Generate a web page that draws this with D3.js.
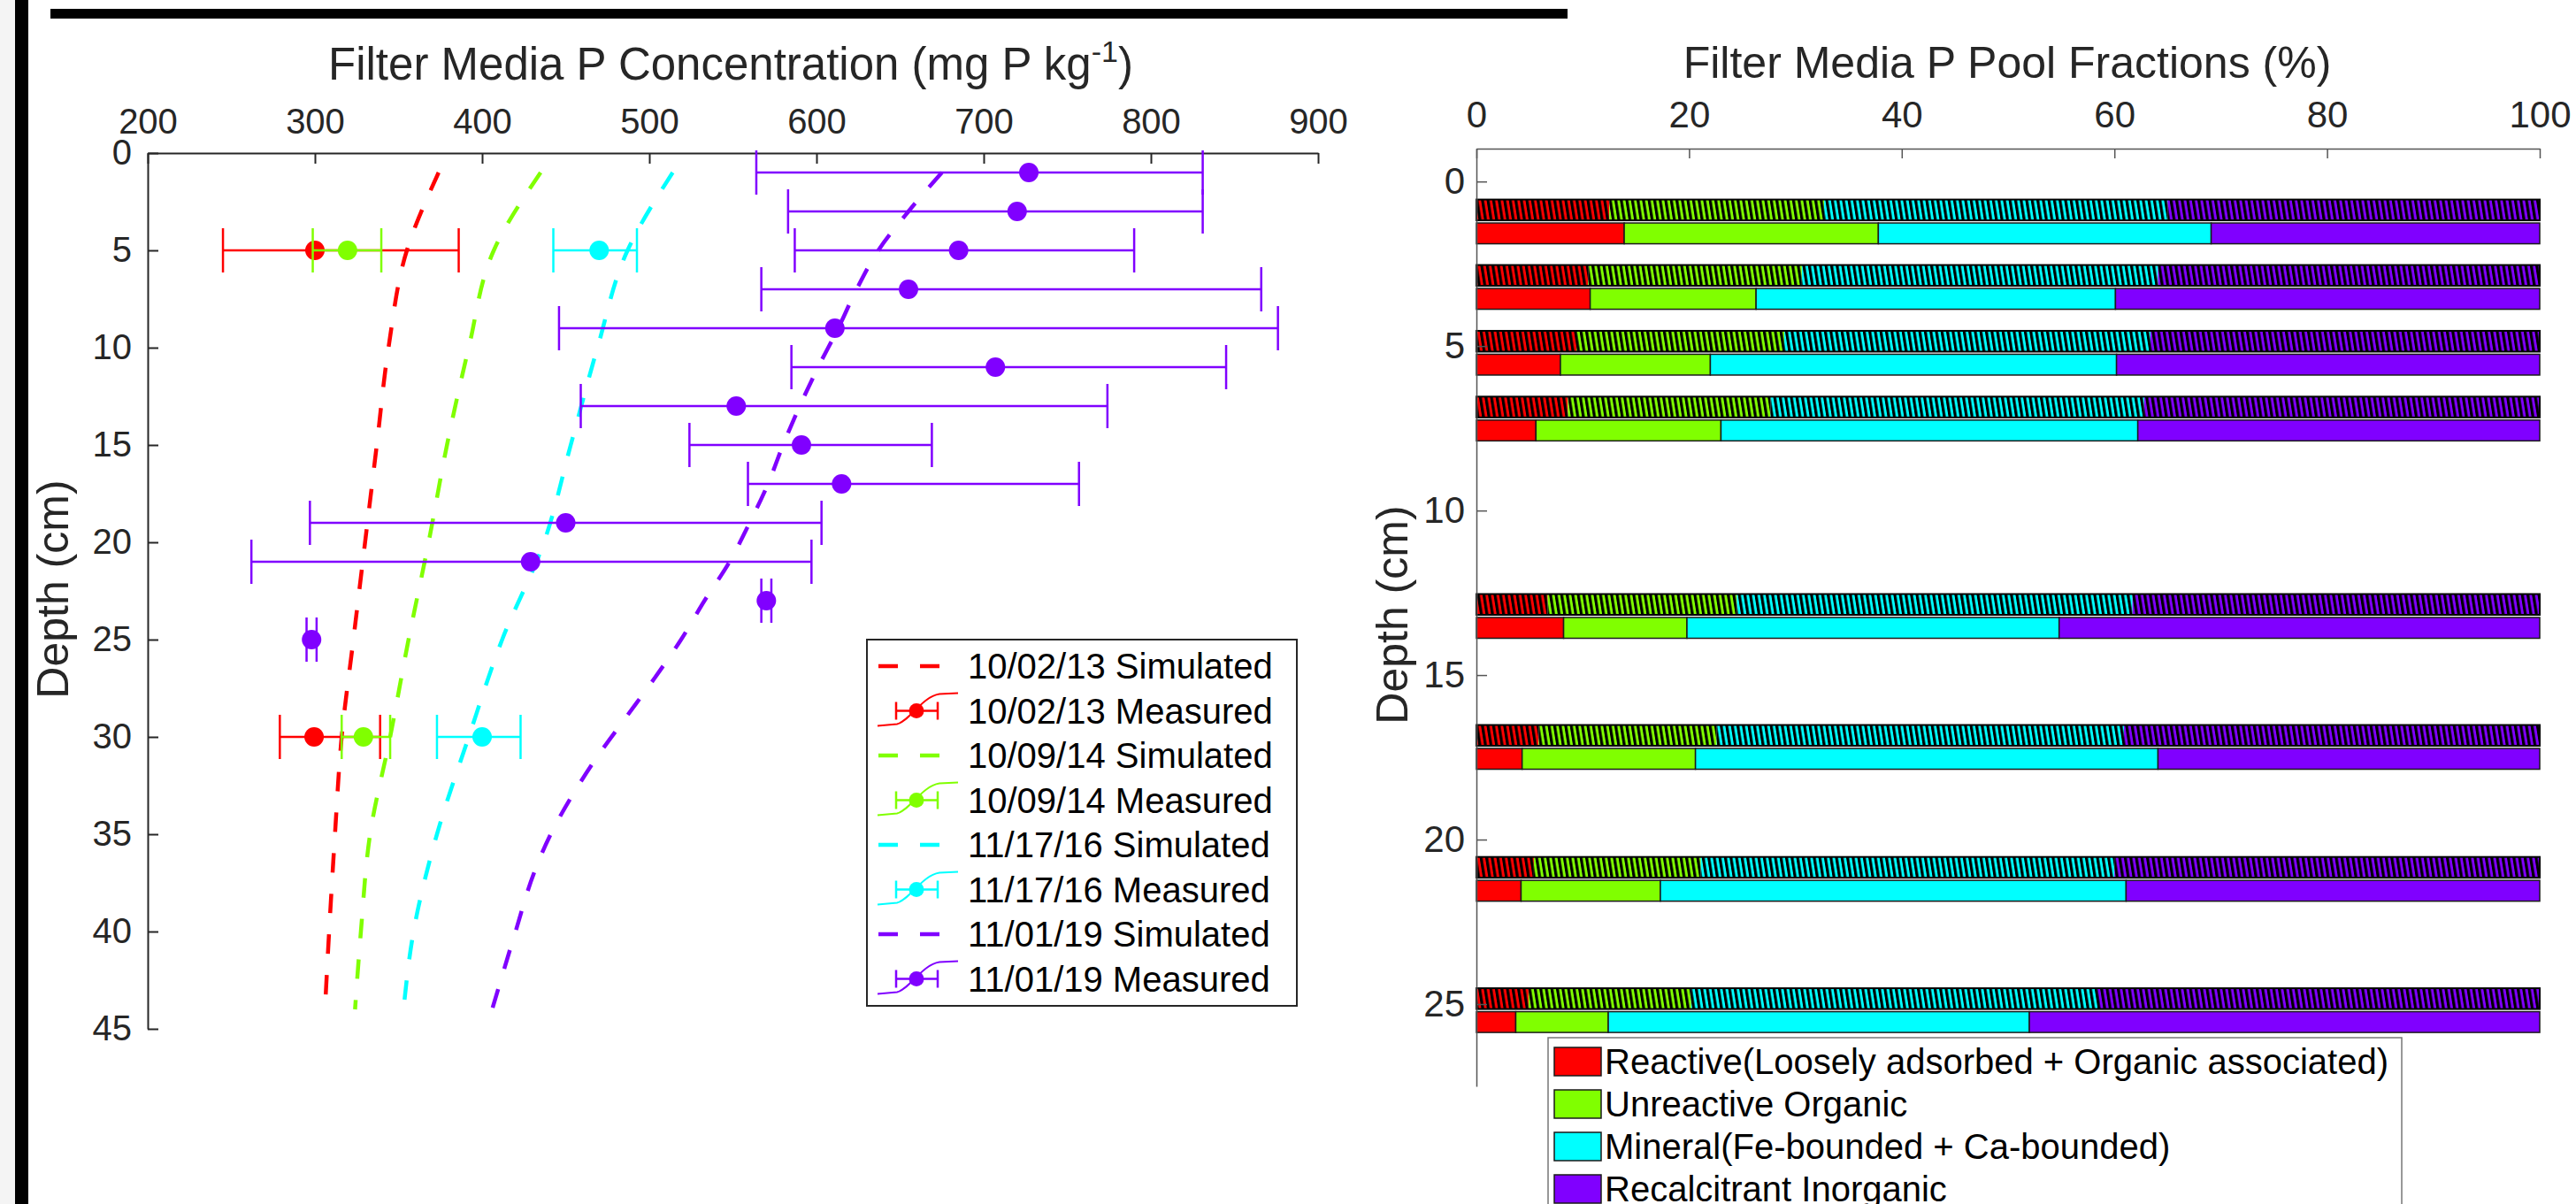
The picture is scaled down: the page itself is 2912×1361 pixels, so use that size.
<!DOCTYPE html>
<html><head><meta charset="utf-8">
<script src="https://cdn.jsdelivr.net/npm/d3@7"></script>
<style>
html,body{margin:0;padding:0;background:#fff;overflow:hidden;}
svg{display:block;font-family:"Liberation Sans",Arial,Helvetica,sans-serif;}
</style></head><body>
<svg id="chart" width="2912" height="1361"></svg>
<script>
// ---------------- DATA: left panel ----------------
const xTicksL = [200,300,400,500,600,700,800,900];
const yTicksL = [0,5,10,15,20,25,30,35,40,45];
const simDepths = [1,5,10,15,20,25,30,35,40,44];
const sim_100213 = [374,355,344,337,330,323,316,312,308.5,306];
const sim_100914 = [435,407,392,379,368,356,345,333,327.5,324];
const sim_111716 = [514,487,469,453,437,412,392,373,359,353];
const simDepths_110119 = [1,3,5,7,9,11,13,15,17,19,21,23,25,27,29,31,33,35,37,40,44];
const sim_110119 = [675,655,637,624,613,601,590,580,571,560,548,533,519,503,486,469,454,441,431,420,406];

const measDepthsEarly = [5,30];
const meas_100213 = [300,299.5];
const low_100213  = [245,279];
const high_100213 = [386,339];
const meas_100914 = [319.5,329];
const low_100914  = [298.7,316];
const high_100914 = [339.7,345];
const meas_111716 = [470,400];
const low_111716  = [442.6,373];
const high_111716 = [492.6,423];

const measDepths_110119 = [1,3,5,7,9,11,13,15,17,19,21,23,25];
const meas_110119 = [727,720,685,655,611,707,552,591,615,450,429,570,298];
const low_110119  = [564,583,587,567,446,585,459,524,559,297,262,567,295];
const high_110119 = [831,831,790,866,876,845,774,669,757,603,597,573,301];

const seriesDates = ["10/02/13","10/09/14","11/17/16","11/01/19"];
const seriesColors = ["#ff0000","#80ff00","#00ffff","#8000ff"];

// ---------------- DATA: right panel ----------------
const xTicksR = [0,20,40,60,80,100];
const yTicksR = [0,5,10,15,20,25];
const pairDepths = [1.22,3.21,5.21,7.21,13.21,17.19,21.2,25.19];
const poolNames = ["Reactive(Loosely adsorbed + Organic associated)","Unreactive Organic","Mineral(Fe-bounded + Ca-bounded)","Recalcitrant Inorganic"];
// hatched bars
const hatchReactive     = [12.5,10.5,9.4,8.6,6.7,5.85,5.4,4.9];
const hatchUnreactive   = [20.2,20.1,19.55,19.05,17.8,16.75,15.7,15.3];
const hatchMineral      = [32.3,33.5,34.45,35.15,37.2,38.3,38.9,38.2];
const hatchRecalcitrant = [35.0,35.9,36.6,37.2,38.3,39.1,40.0,41.6];
// solid bars
const solidReactive     = [13.9,10.7,7.9,5.6,8.2,4.3,4.2,3.7];
const solidUnreactive   = [23.9,15.6,14.1,17.4,11.6,16.3,13.1,8.7];
const solidMineral      = [31.3,33.8,38.2,39.2,35.0,43.5,43.8,39.6];
const solidRecalcitrant = [30.9,39.9,39.8,37.8,45.2,35.9,38.9,48.0];

// ---------------- DRAW ----------------
const svg = d3.select("#chart");
const axisCol = "#262626";

// page frame decorations
svg.append("rect").attr("x",0).attr("y",0).attr("width",17).attr("height",1361).attr("fill","#f4f4f4");
svg.append("rect").attr("x",17).attr("y",0).attr("width",15).attr("height",1361).attr("fill","#000");
svg.append("rect").attr("x",57).attr("y",10).attr("width",1715).attr("height",11).attr("fill","#000");

// ===== LEFT PANEL =====
const xL = d3.scaleLinear().domain([200,900]).range([167,1490]);
const yL = d3.scaleLinear().domain([0,45]).range([173,1163]);

function styleAxis(g, fs){
  g.select(".domain").attr("stroke",axisCol).attr("stroke-width",2);
  g.selectAll(".tick line").attr("stroke",axisCol).attr("stroke-width",2);
  g.selectAll(".tick text").attr("fill",axisCol).style("font-size",fs+"px").style("font-family","'Liberation Sans',Arial,sans-serif");
}

const gxL = svg.append("g").attr("transform",`translate(0,${yL(0)})`)
  .call(d3.axisTop(xL).tickValues(xTicksL).tickSize(-12).tickSizeOuter(0).tickPadding(22));
styleAxis(gxL,40);
const gyL = svg.append("g").attr("transform",`translate(${xL(200)},0)`)
  .call(d3.axisLeft(yL).tickValues(yTicksL).tickSize(-12).tickSizeOuter(0).tickPadding(18));
styleAxis(gyL,40);

// titles
const tL = svg.append("text").attr("x",826).attr("y",90).attr("text-anchor","middle")
  .attr("fill",axisCol).style("font-size","51px");
tL.append("tspan").text("Filter Media P Concentration (mg P kg");
tL.append("tspan").attr("dy",-20).style("font-size","34px").text("-1");
tL.append("tspan").attr("dy",20).text(")");
svg.append("text").attr("transform","translate(77,666) rotate(-90)").attr("text-anchor","middle")
  .attr("fill",axisCol).style("font-size","50px").text("Depth (cm)");

const simSeries = [
  {d:simDepths,c:sim_100213},
  {d:simDepths,c:sim_100914},
  {d:simDepths,c:sim_111716},
  {d:simDepths_110119,c:sim_110119}
];
const measSeries = [
  {d:measDepthsEarly,m:meas_100213,lo:low_100213,hi:high_100213},
  {d:measDepthsEarly,m:meas_100914,lo:low_100914,hi:high_100914},
  {d:measDepthsEarly,m:meas_111716,lo:low_111716,hi:high_111716},
  {d:measDepths_110119,m:meas_110119,lo:low_110119,hi:high_110119}
];
const lineGen = d3.line().x(d=>xL(d.c)).y(d=>yL(d.d)).curve(d3.curveMonotoneY);
const capH = 25, mr = 11;

seriesDates.forEach((dt,i)=>{
  const col = seriesColors[i];
  const ss = simSeries[i];
  const pts = ss.d.map((d,j)=>({d:d,c:ss.c[j]}));
  svg.append("path").datum(pts).attr("d",lineGen).attr("fill","none")
    .attr("stroke",col).attr("stroke-width",4.5).attr("stroke-dasharray","22,24");
  const ms = measSeries[i];
  const rows = ms.d.map((d,j)=>({d:d,m:ms.m[j],lo:ms.lo[j],hi:ms.hi[j]}));
  const g = svg.append("g");
  g.selectAll("line.h").data(rows).enter().append("line")
    .attr("x1",r=>xL(r.lo)).attr("x2",r=>xL(r.hi)).attr("y1",r=>yL(r.d)).attr("y2",r=>yL(r.d))
    .attr("stroke",col).attr("stroke-width",2.5);
  g.selectAll("line.cl").data(rows).enter().append("line")
    .attr("x1",r=>xL(r.lo)).attr("x2",r=>xL(r.lo)).attr("y1",r=>yL(r.d)-capH).attr("y2",r=>yL(r.d)+capH)
    .attr("stroke",col).attr("stroke-width",2.5);
  g.selectAll("line.cr").data(rows).enter().append("line")
    .attr("x1",r=>xL(r.hi)).attr("x2",r=>xL(r.hi)).attr("y1",r=>yL(r.d)-capH).attr("y2",r=>yL(r.d)+capH)
    .attr("stroke",col).attr("stroke-width",2.5);
  g.selectAll("circle").data(rows).enter().append("circle")
    .attr("cx",r=>xL(r.m)).attr("cy",r=>yL(r.d)).attr("r",mr).attr("fill",col);
});

// left legend
const lg = svg.append("g").attr("transform","translate(980,723)");
lg.append("rect").attr("x",0).attr("y",0).attr("width",486).attr("height",414)
  .attr("fill","#fff").attr("stroke",axisCol).attr("stroke-width",2);
seriesDates.forEach((dt,i)=>{
  const col = seriesColors[i];
  const y1 = 30 + (2*i)*50.5, y2 = 30 + (2*i+1)*50.5;
  lg.append("line").attr("x1",13).attr("x2",83).attr("y1",y1).attr("y2",y1)
    .attr("stroke",col).attr("stroke-width",4.5).attr("stroke-dasharray","22,25");
  lg.append("text").attr("x",114).attr("y",y1).attr("dy","0.36em").style("font-size","40px").attr("fill","#000").text(dt+" Simulated");
  const gm = lg.append("g").attr("transform",`translate(0,${y2})`);
  gm.append("path").attr("d","M12,17 L34,15 C48,12 62,-16 82,-19 L103,-20").attr("fill","none").attr("stroke",col).attr("stroke-width",2);
  gm.append("line").attr("x1",33).attr("x2",80).attr("y1",0).attr("y2",0).attr("stroke",col).attr("stroke-width",2.5);
  gm.append("line").attr("x1",33).attr("x2",33).attr("y1",-10).attr("y2",10).attr("stroke",col).attr("stroke-width",2.5);
  gm.append("line").attr("x1",80).attr("x2",80).attr("y1",-10).attr("y2",10).attr("stroke",col).attr("stroke-width",2.5);
  gm.append("circle").attr("cx",56).attr("cy",0).attr("r",8.5).attr("fill",col);
  lg.append("text").attr("x",114).attr("y",y2).attr("dy","0.36em").style("font-size","40px").attr("fill","#000").text(dt+" Measured");
});

// ===== RIGHT PANEL =====
const xR = d3.scaleLinear().domain([0,100]).range([1669,2871]);
const yR = d3.scaleLinear().domain([-1,27.5]).range([168,1228]);

const defs = svg.append("defs");
seriesColors.forEach((c,i)=>{
  const p = defs.append("pattern").attr("id","hatch"+i).attr("patternUnits","userSpaceOnUse")
    .attr("width",6.2).attr("height",40).attr("patternTransform","rotate(-9)");
  p.append("rect").attr("width",6.2).attr("height",40).attr("fill",c);
  p.append("rect").attr("x",0).attr("width",3.2).attr("height",40).attr("fill","#000");
});

const keys = ["reactive","unreactive","mineral","recalcitrant"];
const hatchRows = pairDepths.map((d,j)=>({depth:d,reactive:hatchReactive[j],unreactive:hatchUnreactive[j],mineral:hatchMineral[j],recalcitrant:hatchRecalcitrant[j]}));
const solidRows = pairDepths.map((d,j)=>({depth:d,reactive:solidReactive[j],unreactive:solidUnreactive[j],mineral:solidMineral[j],recalcitrant:solidRecalcitrant[j]}));
const stack = d3.stack().keys(keys);
const hatchStack = stack(hatchRows), solidStack = stack(solidRows);
const barT = 0.632, gapT = 0.04;

// hatched (upper) bars
hatchStack.forEach((layer,i)=>{
  svg.append("g").selectAll("rect").data(layer).enter().append("rect")
    .attr("x",d=>xR(d[0])).attr("width",d=>xR(d[1])-xR(d[0]))
    .attr("y",d=>yR(d.data.depth-gapT-barT)).attr("height",d=>yR(d.data.depth-gapT)-yR(d.data.depth-gapT-barT))
    .attr("fill",`url(#hatch${i})`);
});
svg.append("g").selectAll("rect").data(hatchRows).enter().append("rect")
  .attr("x",xR(0)).attr("width",xR(100)-xR(0))
  .attr("y",d=>yR(d.depth-gapT-barT)).attr("height",d=>yR(d.depth-gapT)-yR(d.depth-gapT-barT))
  .attr("fill","none").attr("stroke","#000").attr("stroke-width",2);
// solid (lower) bars
solidStack.forEach((layer,i)=>{
  svg.append("g").selectAll("rect").data(layer).enter().append("rect")
    .attr("x",d=>xR(d[0])).attr("width",d=>xR(d[1])-xR(d[0]))
    .attr("y",d=>yR(d.data.depth+gapT)).attr("height",d=>yR(d.data.depth+gapT+barT)-yR(d.data.depth+gapT))
    .attr("fill",seriesColors[i]).attr("stroke","#1a1a1a").attr("stroke-width",1.5);
});

const gxR = svg.append("g").attr("transform",`translate(0,${yR(-1)})`)
  .call(d3.axisTop(xR).tickValues(xTicksR).tickSize(-11).tickSizeOuter(0).tickPadding(24));
styleAxis(gxR,42);
gxR.select(".domain").attr("stroke","#555").attr("stroke-width",1.5);
gxR.selectAll(".tick line").attr("stroke","#555").attr("stroke-width",1.5);
const gyR = svg.append("g").attr("transform",`translate(${xR(0)},0)`)
  .call(d3.axisLeft(yR).tickValues(yTicksR).tickSize(-12).tickSizeOuter(0).tickPadding(13));
styleAxis(gyR,42);
gyR.select(".domain").attr("stroke","#555").attr("stroke-width",1.5);
gyR.selectAll(".tick line").attr("stroke","#555").attr("stroke-width",1.5);

svg.append("text").attr("x",2269).attr("y",88).attr("text-anchor","middle")
  .attr("fill",axisCol).style("font-size","50px").text("Filter Media P Pool Fractions (%)");
svg.append("text").attr("transform","translate(1591,695) rotate(-90)").attr("text-anchor","middle")
  .attr("fill",axisCol).style("font-size","50px").text("Depth (cm)");

// right legend
const rg = svg.append("g").attr("transform","translate(1750,1173)");
rg.append("rect").attr("x",0).attr("y",0).attr("width",965).attr("height",240)
  .attr("fill","#fff").attr("stroke","#777").attr("stroke-width",1.5);
poolNames.forEach((nm,i)=>{
  rg.append("rect").attr("x",7).attr("y",11+i*48).attr("width",53).attr("height",32)
    .attr("fill",seriesColors[i]).attr("stroke","#1a1a1a").attr("stroke-width",1.5);
  rg.append("text").attr("x",64).attr("y",27+i*48).attr("dy","0.36em").style("font-size","40px").attr("fill","#000").text(nm);
});
</script>
</body></html>
